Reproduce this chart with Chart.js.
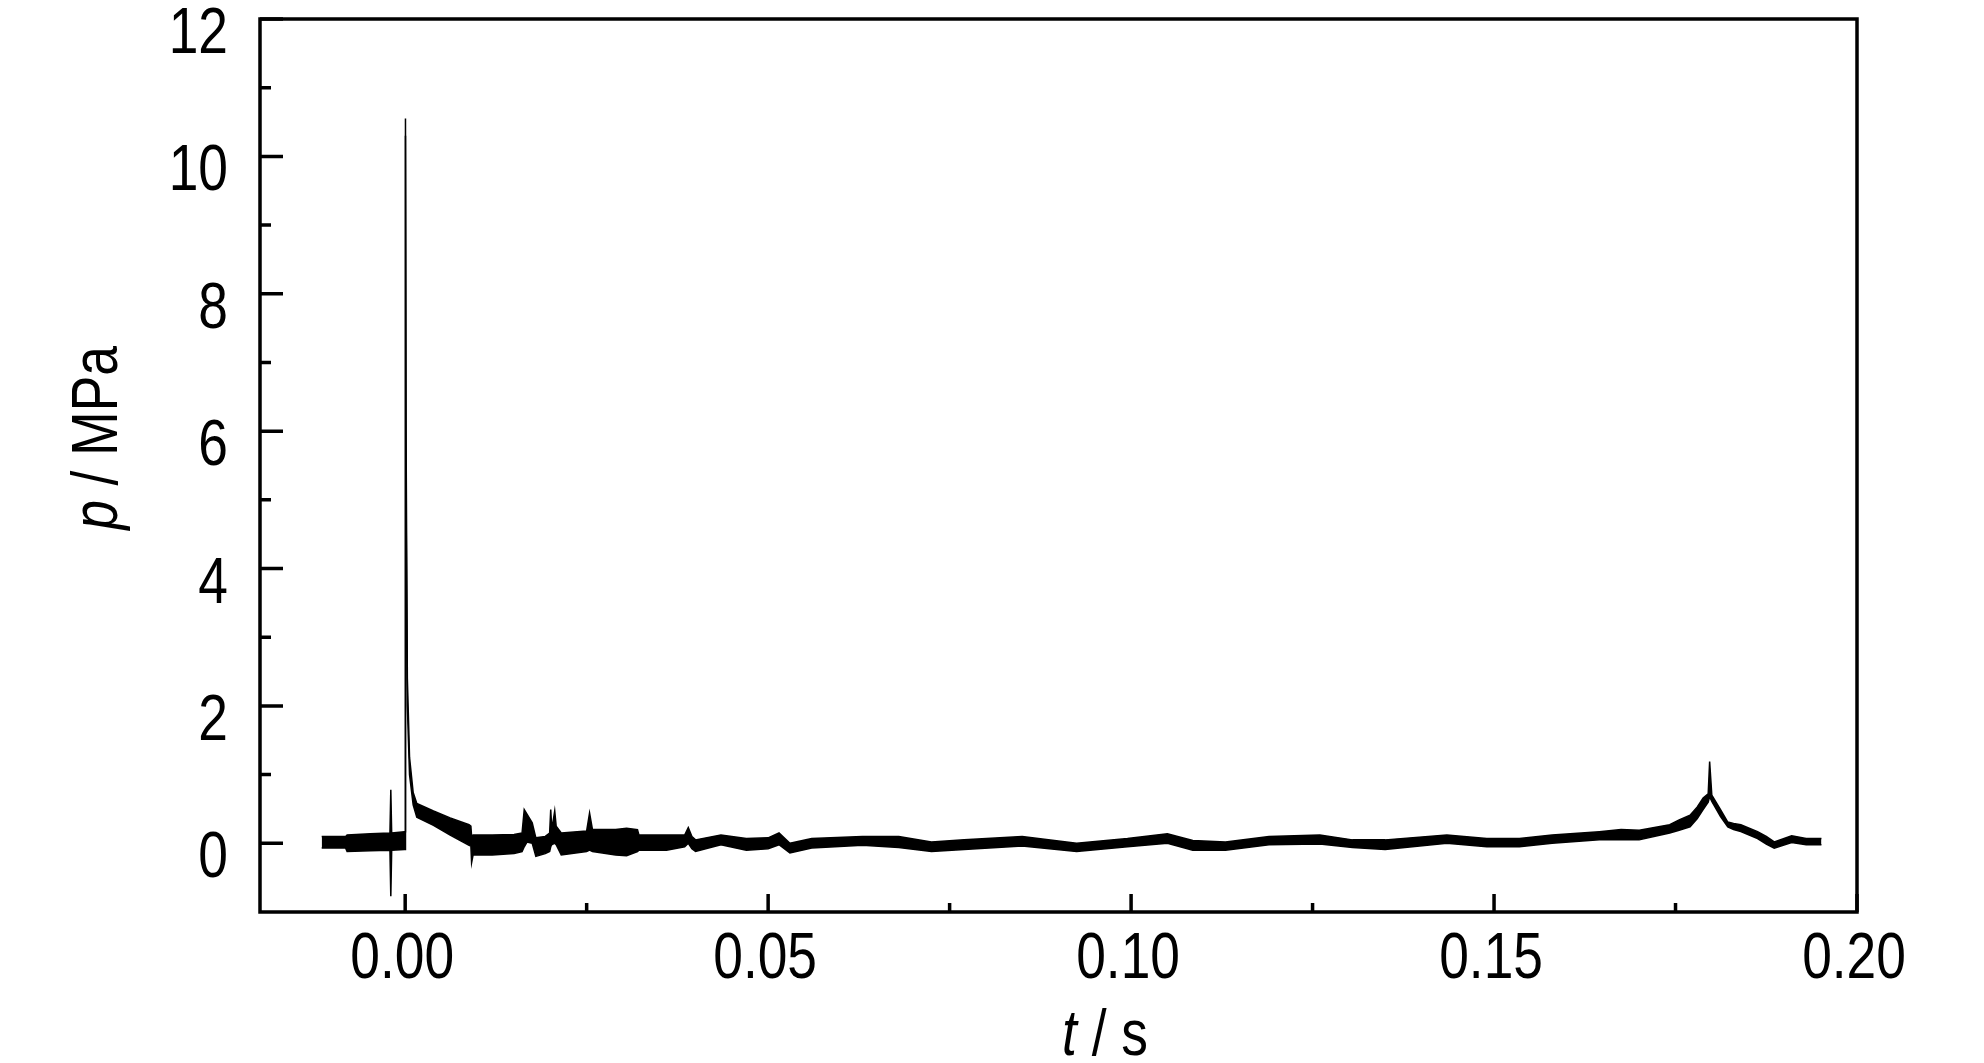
<!DOCTYPE html>
<html>
<head>
<meta charset="utf-8">
<script src="https://cdn.jsdelivr.net/npm/chart.js@4.4.1/dist/chart.umd.min.js"></script>
<style>
  html, body { margin: 0; padding: 0; background: #fff; }
  canvas { display: block; }
</style>
</head>
<body>
<canvas id="grafico" width="1984" height="1063"></canvas>
<script>
// tempo (s) e envelope do sinal de pressão (MPa)
const t = [
  -0.0115, -0.0082, -0.0080, -0.0048, -0.0021, -0.00198, -0.00186, -0.0001,
  0.00000, 0.00004, 0.00012, 0.00030, 0.00060, 0.00110, 0.00160, 0.00390,
  0.00620, 0.00880, 0.00905, 0.00915, 0.00935, 0.0120, 0.0150, 0.0161,
  0.0164, 0.0168, 0.0175, 0.0180, 0.0193, 0.0199, 0.02005, 0.0202,
  0.0206, 0.0208, 0.0215, 0.0250, 0.0254, 0.0258, 0.0290, 0.0305,
  0.0320, 0.0322, 0.0360, 0.0385, 0.0390, 0.0395, 0.0400, 0.0435,
  0.0470, 0.0500, 0.0515, 0.0530, 0.0560, 0.0630, 0.0680, 0.0725,
  0.0770, 0.0850, 0.0925, 0.0995, 0.1050, 0.1085, 0.1130, 0.1190,
  0.1260, 0.1305, 0.1350, 0.1435, 0.1490, 0.1535, 0.1580, 0.1645,
  0.1675, 0.1700, 0.1742, 0.1755, 0.1770, 0.1780, 0.1788, 0.1795,
  0.1797, 0.1800, 0.1812, 0.1822, 0.1830, 0.1840, 0.1863, 0.1875,
  0.1886, 0.1910, 0.1930, 0.1951
];
const pUpper = [
  0.10, 0.10, 0.12, 0.14, 0.15, 0.78, 0.15, 0.17,
  0.17, 10.55, 6.0, 2.4, 1.25, 0.74, 0.58, 0.47,
  0.37, 0.27, 0.25, 0.10, 0.12, 0.12, 0.13, 0.15,
  0.49, 0.42, 0.30, 0.08, 0.10, 0.15, 0.49, 0.20,
  0.47, 0.25, 0.15, 0.18, 0.44, 0.20, 0.20, 0.22,
  0.20, 0.12, 0.12, 0.12, 0.23, 0.10, 0.05, 0.12,
  0.07, 0.08, 0.15, 0.00, 0.07, 0.10, 0.10, 0.02,
  0.05, 0.10, 0.00, 0.07, 0.14, 0.04, 0.02, 0.10,
  0.12, 0.05, 0.05, 0.12, 0.07, 0.07, 0.12, 0.17,
  0.20, 0.19, 0.27, 0.34, 0.41, 0.53, 0.66, 0.72,
  1.19, 0.70, 0.49, 0.31, 0.29, 0.27, 0.17, 0.10,
  0.02, 0.11, 0.07, 0.07
];
const pLower = [
  -0.07, -0.07, -0.12, -0.11, -0.10, -0.77, -0.10, -0.09,
  -0.09, 10.3, 5.0, 2.0, 1.0, 0.56, 0.38, 0.26,
  0.12, -0.03, -0.04, -0.28, -0.17, -0.17, -0.15, -0.12,
  -0.05, 0.02, 0.00, -0.19, -0.15, -0.12, -0.05, -0.02,
  0.00, -0.02, -0.17, -0.12, -0.10, -0.12, -0.17, -0.18,
  -0.12, -0.10, -0.10, -0.05, 0.00, -0.08, -0.12, -0.02,
  -0.10, -0.08, -0.02, -0.14, -0.07, -0.03, -0.06, -0.12,
  -0.09, -0.04, -0.12, -0.05, 0.00, -0.10, -0.10, -0.02,
  -0.01, -0.06, -0.09, 0.00, -0.05, -0.05, 0.00, 0.05,
  0.05, 0.05, 0.15, 0.19, 0.24, 0.36, 0.49, 0.60,
  0.68, 0.61, 0.39, 0.24, 0.20, 0.17, 0.07, -0.01,
  -0.07, 0.01, -0.02, -0.02
];

// marcas e rótulos dos eixos
const xMajorTicks = [0, 0.05, 0.10, 0.15, 0.20];
const xMinorTicks = [0.025, 0.075, 0.125, 0.175];
const xTickLabels = ["0.00", "0.05", "0.10", "0.15", "0.20"];
const yMajorTicks = [0, 2, 4, 6, 8, 10, 12];
const yMinorTicks = [1, 3, 5, 7, 9, 11];
const yTickLabels = ["0", "2", "4", "6", "8", "10", "12"];

const fonte = "'Liberation Sans', Arial, sans-serif";
const estreito = 0.82; // fonte condensada do original

const inferior = t.map((v, i) => ({ x: v, y: pLower[i] }));
const superior = t.map((v, i) => ({ x: v, y: pUpper[i] }));

// escreve texto (partes itálicas ou não) comprimido na horizontal
function texto(ctx, partes, x, y, alinhar) {
  ctx.save();
  ctx.translate(x, y);
  ctx.scale(estreito, 1);
  ctx.textAlign = "left";
  ctx.textBaseline = "alphabetic";
  let total = 0;
  partes.forEach(p => {
    ctx.font = (p.italico ? "italic " : "") + "65px " + fonte;
    p.w = ctx.measureText(p.txt).width;
    total += p.w;
  });
  let cx = alinhar === "right" ? -total : -total / 2;
  partes.forEach(p => {
    ctx.font = (p.italico ? "italic " : "") + "65px " + fonte;
    ctx.fillText(p.txt, cx, 0);
    cx += p.w;
  });
  ctx.restore();
}

const moldura = {
  id: "moldura",
  afterDraw(chart) {
    const { ctx, chartArea: a, scales } = chart;
    ctx.save();
    ctx.strokeStyle = "#000";
    ctx.fillStyle = "#000";
    ctx.lineWidth = 3.5;
    ctx.strokeRect(a.left, a.top, a.right - a.left, a.bottom - a.top);
    ctx.beginPath();
    yMajorTicks.forEach(v => { const y = scales.y.getPixelForValue(v); ctx.moveTo(a.left, y); ctx.lineTo(a.left + 23, y); });
    yMinorTicks.forEach(v => { const y = scales.y.getPixelForValue(v); ctx.moveTo(a.left, y); ctx.lineTo(a.left + 11, y); });
    xMajorTicks.forEach(v => { const x = scales.x.getPixelForValue(v); ctx.moveTo(x, a.bottom); ctx.lineTo(x, a.bottom - 18); });
    xMinorTicks.forEach(v => { const x = scales.x.getPixelForValue(v); ctx.moveTo(x, a.bottom); ctx.lineTo(x, a.bottom - 9); });
    ctx.stroke();

    // rótulos das marcas
    yMajorTicks.forEach((v, i) => {
      texto(ctx, [{ txt: yTickLabels[i] }], a.left - 32, scales.y.getPixelForValue(v) + 34, "right");
    });
    xMajorTicks.forEach((v, i) => {
      texto(ctx, [{ txt: xTickLabels[i] }], scales.x.getPixelForValue(v) - 3, a.bottom + 66);
    });

    // títulos dos eixos
    texto(ctx, [{ txt: "t", italico: true }, { txt: " / s" }], 1105, 1055);
    ctx.translate(117, 438);
    ctx.rotate(-Math.PI / 2);
    texto(ctx, [{ txt: "p", italico: true }, { txt: " / MPa" }], 0, 0);
    ctx.restore();
  }
};

new Chart(document.getElementById("grafico"), {
  type: "line",
  data: {
    datasets: [
      { data: inferior, borderColor: "#000", borderWidth: 1.5, pointRadius: 0, fill: false },
      { data: superior, borderColor: "#000", backgroundColor: "#000", borderWidth: 1.5, pointRadius: 0, fill: "-1" }
    ]
  },
  options: {
    responsive: false,
    animation: false,
    layout: { padding: { top: 19, right: 127, left: 0, bottom: 0 } },
    plugins: { legend: { display: false }, tooltip: { enabled: false } },
    scales: {
      x: {
        type: "linear",
        min: -0.02,
        max: 0.20,
        grid: { display: false, drawTicks: false },
        border: { display: false },
        ticks: { display: false },
        afterBuildTicks: s => { s.ticks = xMajorTicks.map(v => ({ value: v })); },
        afterFit: s => { s.height = 151; s.paddingLeft = 0; s.paddingRight = 0; }
      },
      y: {
        type: "linear",
        min: -1,
        max: 12,
        grid: { display: false, drawTicks: false },
        border: { display: false },
        ticks: { display: false },
        afterBuildTicks: s => { s.ticks = yMajorTicks.map(v => ({ value: v })); },
        afterFit: s => { s.width = 260; s.paddingTop = 0; s.paddingBottom = 0; }
      }
    }
  },
  plugins: [moldura]
});
</script>
</body>
</html>
